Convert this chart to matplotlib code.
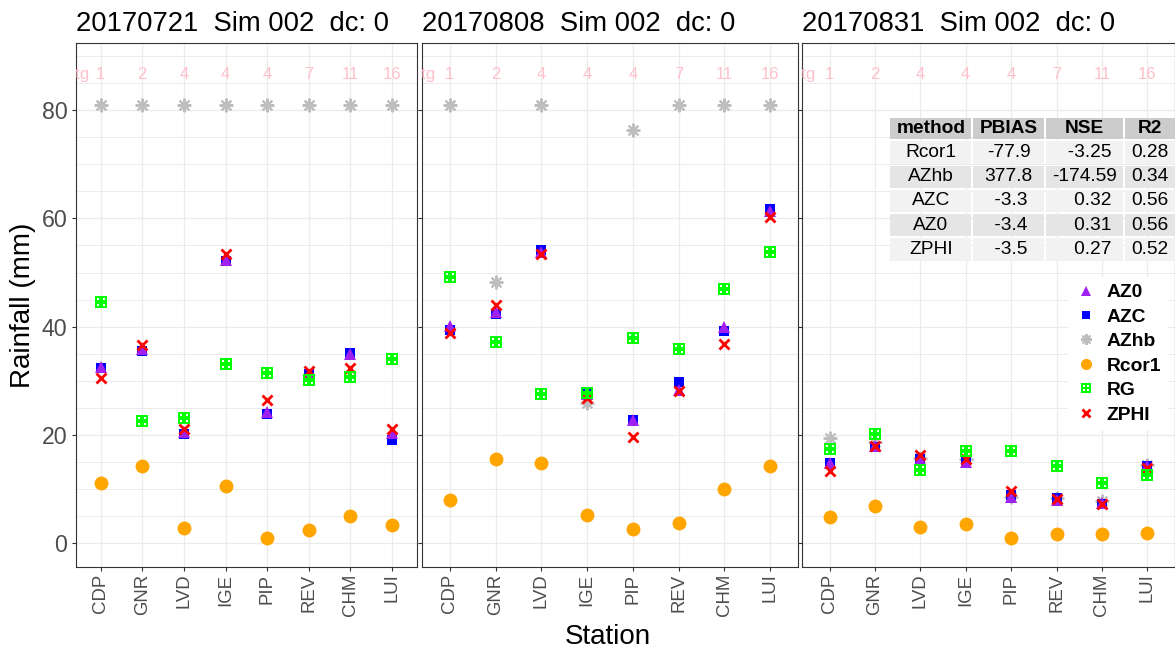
import matplotlib
matplotlib.use('Agg')
import matplotlib.pyplot as plt
from matplotlib.path import Path
from matplotlib.patches import Rectangle

plt.rcParams['font.family'] = ['Liberation Sans', 'DejaVu Sans']

# ---------------- data ----------------
stations = ['CDP', 'GNR', 'LVD', 'IGE', 'PIP', 'REV', 'CHM', 'LUI']
ntg = [1, 2, 4, 4, 4, 7, 11, 16]
titles = ['20170721  Sim 002  dc: 0', '20170808  Sim 002  dc: 0', '20170831  Sim 002  dc: 0']

az0_0721 = [32.5, 35.8, 20.6, 52.3, 24.2, 31.0, 35.0, 20.4]
azc_0721 = [32.3, 35.6, 20.2, 52.1, 23.8, 31.2, 35.1, 19.1]
azhb_0721 = [81.0, 81.0, 81.0, 81.0, 81.0, 81.0, 81.0, 81.0]
rcor1_0721 = [11.2, 14.3, 2.9, 10.6, 1.05, 2.5, 5.1, 3.3]
rg_0721 = [44.5, 22.6, 23.1, 33.1, 31.4, 30.2, 30.8, 34.0]
zphi_0721 = [30.5, 36.7, 21.1, 53.5, 26.5, 31.8, 32.3, 21.2]

az0_0808 = [40.1, 42.8, 53.8, 27.5, 22.7, 28.3, 39.9, 61.3]
azc_0808 = [39.4, 42.3, 54.1, 27.8, 22.8, 29.7, 39.3, 61.7]
azhb_0808 = [81.0, 48.3, 81.0, 25.9, 76.4, 81.0, 81.0, 81.0]
rcor1_0808 = [8.0, 15.6, 14.9, 5.2, 2.6, 3.8, 10.1, 14.3]
rg_0808 = [49.1, 37.2, 27.5, 27.7, 38.0, 35.9, 46.9, 53.8]
zphi_0808 = [38.8, 44.1, 53.5, 26.8, 19.7, 28.1, 36.8, 60.3]

az0_0831 = [14.9, 18.0, 15.5, 15.1, 8.6, 8.0, 7.4, 14.3]
azc_0831 = [14.8, 17.8, 15.5, 15.3, 8.9, 8.3, 7.2, 14.2]
azhb_0831 = [19.4, 18.8, 15.8, 15.5, 8.6, 8.3, 7.9, 14.4]
rcor1_0831 = [4.9, 6.85, 3.0, 3.5, 1.0, 1.7, 1.8, 1.9]
rg_0831 = [17.5, 20.2, 13.6, 17.1, 17.0, 14.3, 11.2, 12.6]
zphi_0831 = [13.4, 18.0, 16.3, 15.5, 9.6, 8.1, 7.3, 14.0]

tab_method = ['Rcor1', 'AZhb', 'AZC', 'AZ0', 'ZPHI']
tab_pbias = [-77.9, 377.8, -3.3, -3.4, -3.5]
tab_nse = [-3.25, -174.59, 0.32, 0.31, 0.27]
tab_r2 = [0.28, 0.34, 0.56, 0.56, 0.52]

panels = [
    dict(AZ0=az0_0721, AZC=azc_0721, AZhb=azhb_0721, Rcor1=rcor1_0721, RG=rg_0721, ZPHI=zphi_0721),
    dict(AZ0=az0_0808, AZC=azc_0808, AZhb=azhb_0808, Rcor1=rcor1_0808, RG=rg_0808, ZPHI=zphi_0808),
    dict(AZ0=az0_0831, AZC=azc_0831, AZhb=azhb_0831, Rcor1=rcor1_0831, RG=rg_0831, ZPHI=zphi_0831),
]

# ---------------- styles ----------------
def _sq(cx, cy, h, rev=False):
    pts = [(cx - h, cy - h), (cx + h, cy - h), (cx + h, cy + h), (cx - h, cy + h)]
    if rev:
        pts = pts[::-1]
    return pts + [pts[0]], [Path.MOVETO, Path.LINETO, Path.LINETO, Path.LINETO, Path.CLOSEPOLY]

verts, codes = [], []
v, c = _sq(0, 0, 1.0)
verts += v; codes += c
for sx in (-1, 1):
    for sy in (-1, 1):
        v, c = _sq(0.40 * sx, 0.40 * sy, 0.15, rev=True)
        verts += v; codes += c
rg_marker = Path(verts, codes)

styles = {
    'AZhb': dict(marker=(8, 2, 0), color='#BEBEBE', ms=9.8, mew=1.5),
    'Rcor1': dict(marker='o', color='#FFA500', ms=10, mew=0),
    'AZC': dict(marker='s', color='#0000FF', ms=6.6, mew=0),
    'AZ0': dict(marker='^', color='#A020F0', ms=8.5, mew=0),
    'ZPHI': dict(marker='x', color='#FF0000', ms=7.8, mew=2.0),
    'RG': dict(marker=rg_marker, color='#00FF00', ms=9.3, mew=0),
}
draw_order = ['AZhb', 'Rcor1', 'AZC', 'AZ0', 'ZPHI', 'RG']
legend_order = ['AZ0', 'AZC', 'AZhb', 'Rcor1', 'RG', 'ZPHI']

# ---------------- layout ----------------
W, H = 1175, 651
fig = plt.figure(figsize=(W / 100, H / 100), dpi=100)

def fx(px):
    return px / W

def fy(py):
    return 1 - py / H

top_px, bot_px = 43.3, 567.3
boxes = [(75.7, 417.0), (422.3, 797.7), (802.3, 1174.6)]
x = list(range(1, len(stations) + 1))

axes = []
handles = {}
for i, (l, r) in enumerate(boxes):
    ax = fig.add_axes([fx(l), fy(bot_px), (r - l) / W, (bot_px - top_px) / H])
    axes.append(ax)
    ax.set_xlim(0.4, 8.6)
    ax.set_ylim(-4.43, 92.34)
    ax.set_axisbelow(True)
    ax.set_xticks(x)
    ax.set_xticklabels(stations, rotation=90, fontsize=13.4, color='#4D4D4D')
    ax.set_yticks([0, 20, 40, 60, 80])
    ax.set_yticks(list(range(0, 91, 5)), minor=True)
    if i == 0:
        ax.set_yticklabels(['0', '20', '40', '60', '80'], fontsize=16.7, color='#4D4D4D')
    else:
        ax.set_yticklabels([])
    ax.tick_params(axis='both', which='major', length=3, width=0.8, color='#333333', pad=3)
    ax.tick_params(axis='x', which='major', pad=1.5)
    ax.tick_params(which='minor', length=0)
    ax.grid(True, which='major', color='#EBEBEB', lw=0.9)
    ax.grid(True, which='minor', axis='y', color='#EBEBEB', lw=0.7)
    for sp in ax.spines.values():
        sp.set_color('#333333')
        sp.set_linewidth(0.8)
    ax.set_title(titles[i], loc='left', fontsize=19.7, pad=8.5, color='black')

    data = panels[i]
    for m in draw_order:
        st = styles[m]
        ln, = ax.plot(x, data[m], linestyle='none', marker=st['marker'], ms=st['ms'],
                      mew=st['mew'], color=st['color'], mec=st['color'], mfc=st['color'],
                      label=m, zorder=3)
        handles[m] = ln
    # gauge count labels
    ax.text(0.46, 86.6, 'ntg', color='#FFC0CB', fontsize=12, ha='center', va='center', clip_on=True)
    for xi, n in zip(x, ntg):
        ax.text(xi, 86.6, str(n), color='#FFC0CB', fontsize=12, ha='center', va='center', clip_on=True)

# axis labels
fig.text(fx(23), fy((top_px + bot_px) / 2), 'Rainfall (mm)', rotation=90, fontsize=20,
         ha='center', va='center')
fig.text(fx(608), fy(637), 'Station', fontsize=20, ha='center', va='center')

# ---------------- table ----------------
col_edges = [889.3, 972.3, 1045.0, 1124.0, 1175.5]
row_edges = [116.7, 140.0, 165.0, 188.7, 213.0, 237.3, 261.5]
header = ['method', 'PBIAS', 'NSE', 'R2']
rows = []
for m, p, n, r2 in zip(tab_method, tab_pbias, tab_nse, tab_r2):
    rows.append([m, f'{p:5.1f}', f'{n:7.2f}', f'{r2:.2f}'])

for ri in range(len(row_edges) - 1):
    y0, y1 = row_edges[ri], row_edges[ri + 1]
    if ri == 0:
        bg = '#CCCCCC'
        texts = header
        weight = 'bold'
    else:
        bg = '#F2F2F2' if ri % 2 == 1 else '#E5E5E5'
        texts = rows[ri - 1]
        weight = 'normal'
    for ci in range(len(col_edges) - 1):
        x0, x1 = col_edges[ci], col_edges[ci + 1]
        fig.add_artist(Rectangle((fx(x0 + 1), fy(y1 - 1)), (x1 - x0 - 2) / W, (y1 - y0 - 2) / H,
                                 transform=fig.transFigure, facecolor=bg, edgecolor='none', zorder=5))
        fig.text(fx((x0 + x1) / 2), fy((y0 + y1) / 2), texts[ci], fontsize=13.8, weight=weight,
                 ha='center', va='center', zorder=6)

# ---------------- legend ----------------
leg = axes[2].legend([handles[m] for m in legend_order], legend_order,
                     loc='upper left', bbox_to_anchor=(fx(1068), fy(277)),
                     bbox_transform=fig.transFigure, frameon=True, fancybox=False,
                     facecolor='white', edgecolor='none', framealpha=1,
                     prop=dict(weight='bold', size=13.9), markerscale=0.8,
                     handlelength=1.2, handletextpad=0.45, labelspacing=0.36,
                     borderpad=0.35, borderaxespad=0)

fig.savefig('out.png', dpi=100)
